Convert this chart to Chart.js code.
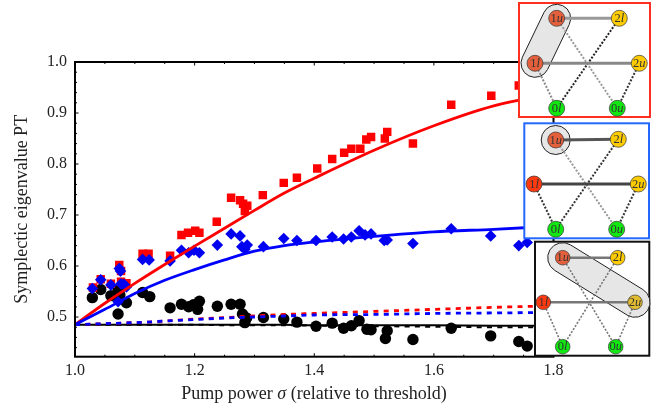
<!DOCTYPE html>
<html>
<head>
<meta charset="utf-8">
<title>Symplectic eigenvalue PT</title>
<script src="https://cdn.jsdelivr.net/npm/chart.js@4"></script>
<style>
    html, body { margin: 0; padding: 0; background: #fff; }
    canvas { display: block; }
</style>
</head>
<body>
<canvas id="chart" width="656" height="409"></canvas>
<script>
// Measured points
const redX = [1.030, 1.043, 1.060, 1.074, 1.077, 1.077, 1.086, 1.113, 1.123, 1.159, 1.178, 1.189, 1.201, 1.208, 1.237, 1.261, 1.276, 1.281, 1.288, 1.284, 1.314, 1.349, 1.371, 1.405, 1.430, 1.450, 1.462, 1.477, 1.487, 1.495, 1.518, 1.522, 1.565, 1.629, 1.696, 1.742];
const redY = [0.558, 0.574, 0.565, 0.602, 0.590, 0.569, 0.566, 0.624, 0.624, 0.620, 0.661, 0.665, 0.669, 0.665, 0.687, 0.734, 0.729, 0.722, 0.718, 0.708, 0.739, 0.763, 0.773, 0.791, 0.810, 0.822, 0.830, 0.830, 0.848, 0.853, 0.850, 0.863, 0.840, 0.916, 0.934, 0.954];

const blueX = [1.029, 1.043, 1.060, 1.074, 1.076, 1.072, 1.077, 1.086, 1.082, 1.113, 1.124, 1.159, 1.178, 1.190, 1.199, 1.208, 1.238, 1.261, 1.276, 1.279, 1.288, 1.284, 1.315, 1.349, 1.371, 1.403, 1.430, 1.449, 1.462, 1.475, 1.485, 1.495, 1.517, 1.522, 1.565, 1.629, 1.695, 1.742, 1.756];
const blueY = [0.556, 0.573, 0.563, 0.595, 0.590, 0.530, 0.565, 0.559, 0.564, 0.613, 0.612, 0.610, 0.631, 0.626, 0.631, 0.626, 0.641, 0.663, 0.659, 0.638, 0.641, 0.633, 0.638, 0.654, 0.650, 0.650, 0.657, 0.653, 0.657, 0.669, 0.661, 0.663, 0.650, 0.651, 0.644, 0.673, 0.659, 0.640, 0.646];

const blackX = [1.029, 1.043, 1.060, 1.072, 1.072, 1.075, 1.086, 1.113, 1.125, 1.159, 1.178, 1.190, 1.198, 1.205, 1.208, 1.238, 1.261, 1.276, 1.280, 1.284, 1.287, 1.315, 1.349, 1.371, 1.403, 1.430, 1.449, 1.462, 1.475, 1.488, 1.495, 1.522, 1.519, 1.565, 1.629, 1.695, 1.742, 1.756];
const blackY = [0.538, 0.554, 0.542, 0.506, 0.553, 0.543, 0.528, 0.548, 0.540, 0.518, 0.525, 0.520, 0.524, 0.515, 0.531, 0.521, 0.525, 0.525, 0.506, 0.489, 0.498, 0.499, 0.496, 0.490, 0.482, 0.488, 0.478, 0.483, 0.493, 0.476, 0.475, 0.473, 0.458, 0.456, 0.478, 0.463, 0.452, 0.443];

const curveX = [1.0, 1.05, 1.1, 1.15, 1.2, 1.25, 1.3, 1.35, 1.4, 1.5, 1.6, 1.7, 1.8];
const redCurve = [0.485, 0.527, 0.566, 0.603, 0.639, 0.674, 0.709, 0.743, 0.772, 0.827, 0.875, 0.914, 0.938];
const blueCurve = [0.485, 0.515, 0.546, 0.572, 0.593, 0.612, 0.629, 0.640, 0.647, 0.658, 0.667, 0.672, 0.678];
const redDashed = [0.485, 0.487, 0.489, 0.492, 0.496, 0.499, 0.502, 0.505, 0.507, 0.511, 0.515, 0.519, 0.522];
const blueDashed = [0.485, 0.487, 0.489, 0.492, 0.495, 0.498, 0.500, 0.502, 0.504, 0.505, 0.507, 0.508, 0.509];
const blackCurve = [0.485, 0.485, 0.485, 0.485, 0.485, 0.485, 0.485, 0.485, 0.484, 0.484, 0.484, 0.483, 0.483];
const blackDashed = [0.485, 0.485, 0.485, 0.485, 0.485, 0.484, 0.484, 0.484, 0.483, 0.482, 0.481, 0.480, 0.480];

// Tick labels
const xTicks = [1.0, 1.2, 1.4, 1.6, 1.8];
const yTicks = [0.5, 0.6, 0.7, 0.8, 0.9, 1.0];
const xMinorTicks = [1.05, 1.1, 1.15, 1.25, 1.3, 1.35, 1.45, 1.5, 1.55, 1.65, 1.7, 1.75];
const yMinorTicks = [0.44, 0.46, 0.48, 0.52, 0.54, 0.56, 0.58, 0.62, 0.64, 0.66, 0.68, 0.72, 0.74, 0.76, 0.78, 0.82, 0.84, 0.86, 0.88, 0.92, 0.94, 0.96, 0.98];

const serif = '"Liberation Serif", "Times New Roman", serif';

function toPoints(xs, ys) {
    return xs.map((x, i) => ({ x: x, y: ys[i] }));
}

function curve(ys, color, width, dash) {
    return {
        type: 'line',
        data: toPoints(curveX, ys),
        borderColor: color,
        borderWidth: width,
        borderDash: dash || [],
        pointRadius: 0,
        tension: 0.4,
        cubicInterpolationMode: 'monotone',
        fill: false
    };
}

function markers(xs, ys, color, style, radius) {
    return {
        type: 'scatter',
        data: toPoints(xs, ys),
        backgroundColor: color,
        borderWidth: 0,
        pointStyle: style,
        pointRadius: radius
    };
}

// The three level diagrams in the upper right
const orange = '#e4603c';
const insets = [
    {
        frame: [519, 3, 131, 114], frameColor: '#ff3020', radius: 8,
        nodes: { '1u': [556.7, 18.3, orange], '2l': [619.3, 18.3, '#ffcc00'], '1l': [535, 63.3, orange], '2u': [639.3, 63.3, '#ffcc00'], '0l': [556.7, 108.3, '#11e811'], '0u': [617.3, 108.3, '#11e811'] },
        solid: [['1u', '2l', '#999', 3], ['1l', '2u', '#888', 3]],
        dotted: [['1u', '0u', '#999', 2], ['1l', '0l', '#888', 2], ['2l', '0l', '#222', 2], ['2u', '0u', '#333', 2]],
        pill: ['1u', '1l', 14]
    },
    {
        frame: [524.3, 123.3, 124.7, 115], frameColor: '#2468ff', radius: 8,
        nodes: { '1u': [555.7, 140, orange], '2l': [618.3, 139.3, '#ffcc00'], '1l': [534, 184, '#ff3a10'], '2u': [638.3, 184, '#ffcc00'], '0l': [555.7, 229.3, '#11e811'], '0u': [616.7, 229.3, '#11e811'] },
        solid: [['1u', '2l', '#555', 3], ['1l', '2u', '#444', 3]],
        dotted: [['1u', '0u', '#999', 2], ['1l', '0l', '#333', 2], ['2l', '0l', '#333', 2], ['2u', '0u', '#333', 2]],
        pill: ['1u', '1u', 14.5]
    },
    {
        frame: [535, 241.7, 114.3, 114], frameColor: '#111', radius: 7.3,
        nodes: { '1u': [562.7, 257.7, orange], '2l': [617.7, 257.7, '#ffcc00'], '1l': [543.3, 302.3, '#ff3a10'], '2u': [635, 302.3, '#e2bc30'], '0l': [562.7, 346.7, '#11e811'], '0u': [615.7, 346.7, '#11e811'] },
        solid: [['1u', '2l', '#777', 2.5], ['1l', '2u', '#777', 2.5]],
        dotted: [['1u', '0u', '#777', 1.6], ['1l', '0l', '#777', 1.6], ['2l', '0l', '#777', 1.6], ['2u', '0u', '#777', 1.6]],
        pill: ['1u', '2u', 15]
    }
];

// Writes runs of roman and italic text centred on x
function drawRuns(ctx, runs, x, y, size) {
    let total = 0;
    runs.forEach(run => {
        ctx.font = (run[1] ? 'italic ' : '') + size + 'px ' + serif;
        total += ctx.measureText(run[0]).width;
    });
    let cursor = x - total / 2;
    ctx.textAlign = 'left';
    ctx.textBaseline = 'middle';
    runs.forEach(run => {
        ctx.font = (run[1] ? 'italic ' : '') + size + 'px ' + serif;
        ctx.fillText(run[0], cursor, y);
        cursor += ctx.measureText(run[0]).width;
    });
}

function drawInset(ctx, inset) {
    const f = inset.frame;
    ctx.fillStyle = '#fff';
    ctx.fillRect(f[0], f[1], f[2], f[3]);
    ctx.strokeStyle = inset.frameColor;
    ctx.lineWidth = 2;
    ctx.setLineDash([]);
    ctx.strokeRect(f[0], f[1], f[2], f[3]);

    // Grey capsule around the grouped levels
    const a = inset.nodes[inset.pill[0]];
    const b = inset.nodes[inset.pill[1]];
    const r = inset.pill[2];
    const angle = Math.atan2(b[1] - a[1], b[0] - a[0]);
    ctx.fillStyle = '#e6e6e6';
    ctx.strokeStyle = '#222';
    ctx.lineWidth = 1;
    ctx.beginPath();
    ctx.arc(a[0], a[1], r, angle + Math.PI / 2, angle + Math.PI * 1.5);
    ctx.arc(b[0], b[1], r, angle - Math.PI / 2, angle + Math.PI / 2);
    ctx.closePath();
    ctx.fill();
    ctx.stroke();

    inset.dotted.forEach(e => {
        ctx.strokeStyle = e[2];
        ctx.lineWidth = e[3];
        ctx.setLineDash([2, 1.6]);
        ctx.beginPath();
        ctx.moveTo(inset.nodes[e[0]][0], inset.nodes[e[0]][1]);
        ctx.lineTo(inset.nodes[e[1]][0], inset.nodes[e[1]][1]);
        ctx.stroke();
    });
    ctx.setLineDash([]);
    inset.solid.forEach(e => {
        ctx.strokeStyle = e[2];
        ctx.lineWidth = e[3];
        ctx.beginPath();
        ctx.moveTo(inset.nodes[e[0]][0], inset.nodes[e[0]][1]);
        ctx.lineTo(inset.nodes[e[1]][0], inset.nodes[e[1]][1]);
        ctx.stroke();
    });

    Object.keys(inset.nodes).forEach(name => {
        const n = inset.nodes[name];
        ctx.fillStyle = n[2];
        ctx.strokeStyle = '#333';
        ctx.lineWidth = 0.7;
        ctx.beginPath();
        ctx.arc(n[0], n[1], inset.radius, 0, Math.PI * 2);
        ctx.fill();
        ctx.stroke();
        ctx.fillStyle = '#333';
        drawRuns(ctx, [[name[0], false], [name[1], true]], n[0], n[1] + 0.5, 12.5);
    });
}

// Frame with inward ticks, x title, insets
const framePlugin = {
    id: 'frame',
    afterDatasetsDraw(chart) {
        const ctx = chart.ctx;
        const area = chart.chartArea;
        const xs = chart.scales.x;
        const ys = chart.scales.y;
        ctx.save();
        ctx.strokeStyle = '#000';

        function tickX(values, len, width) {
            ctx.lineWidth = width;
            values.forEach(v => {
                const px = xs.getPixelForValue(v);
                ctx.beginPath();
                ctx.moveTo(px, area.top);
                ctx.lineTo(px, area.top + len);
                ctx.moveTo(px, area.bottom);
                ctx.lineTo(px, area.bottom - len);
                ctx.stroke();
            });
        }
        function tickY(values, len, width) {
            ctx.lineWidth = width;
            values.forEach(v => {
                const py = ys.getPixelForValue(v);
                ctx.beginPath();
                ctx.moveTo(area.left, py);
                ctx.lineTo(area.left + len, py);
                ctx.stroke();
            });
        }
        tickX(xTicks, 3.5, 1);
        tickX(xMinorTicks, 2, 1);
        tickY(yTicks, 3.5, 1);
        tickY(yMinorTicks, 2, 1);

        ctx.lineWidth = 2;
        ctx.strokeRect(area.left, area.top, area.right - area.left, area.bottom - area.top);

        ctx.fillStyle = '#222';
        drawRuns(ctx, [['Pump power ', false], ['\u03c3', true], [' (relative to threshold)', false]], 314, 394, 18);

        insets.forEach(inset => drawInset(ctx, inset));
        ctx.restore();
    }
};

new Chart(document.getElementById('chart').getContext('2d'), {
    type: 'scatter',
    data: {
        datasets: [
            curve(blueCurve, '#0000ff', 2.8),
            curve(redCurve, '#ff0000', 2.8),
            curve(blueDashed, '#0000ff', 2.8, [5, 5.3]),
            curve(redDashed, '#ff0000', 2.8, [5, 5.3]),
            curve(blackCurve, '#000000', 2),
            curve(blackDashed, '#000000', 2, [5, 5.3]),
            markers(blueX, blueY, '#0000f0', 'rectRot', 5.8),
            markers(redX, redY, '#ff0000', 'rect', 6),
            markers(blackX, blackY, '#000000', 'circle', 5.7)
        ]
    },
    plugins: [framePlugin],
    options: {
        responsive: false,
        animation: false,
        layout: { padding: { top: 62, right: 102.5, left: 0, bottom: 0 } },
        plugins: { legend: { display: false }, tooltip: { enabled: false } },
        scales: {
            x: {
                type: 'linear',
                min: 1.0,
                max: 1.8,
                afterBuildTicks: scale => { scale.ticks = xTicks.map(v => ({ value: v })); },
                afterFit: scale => { scale.height = 52.3; },
                grid: { display: false, drawTicks: false },
                border: { display: false },
                ticks: {
                    maxRotation: 0,
                    autoSkip: false,
                    padding: 4,
                    color: '#222',
                    font: { family: serif, size: 16 },
                    callback: v => v.toFixed(1)
                }
            },
            y: {
                type: 'linear',
                min: 0.4222,
                max: 1.0,
                afterBuildTicks: scale => { scale.ticks = yTicks.map(v => ({ value: v })); },
                afterFit: scale => { scale.width = 75; },
                grid: { display: false, drawTicks: false },
                border: { display: false },
                title: {
                    display: true,
                    text: 'Symplectic eigenvalue PT',
                    color: '#222',
                    font: { family: serif, size: 18 },
                    padding: { top: 11, bottom: 0 }
                },
                ticks: {
                    padding: 8,
                    color: '#222',
                    font: { family: serif, size: 16 },
                    callback: v => v.toFixed(1)
                }
            }
        }
    }
});
</script>
</body>
</html>
